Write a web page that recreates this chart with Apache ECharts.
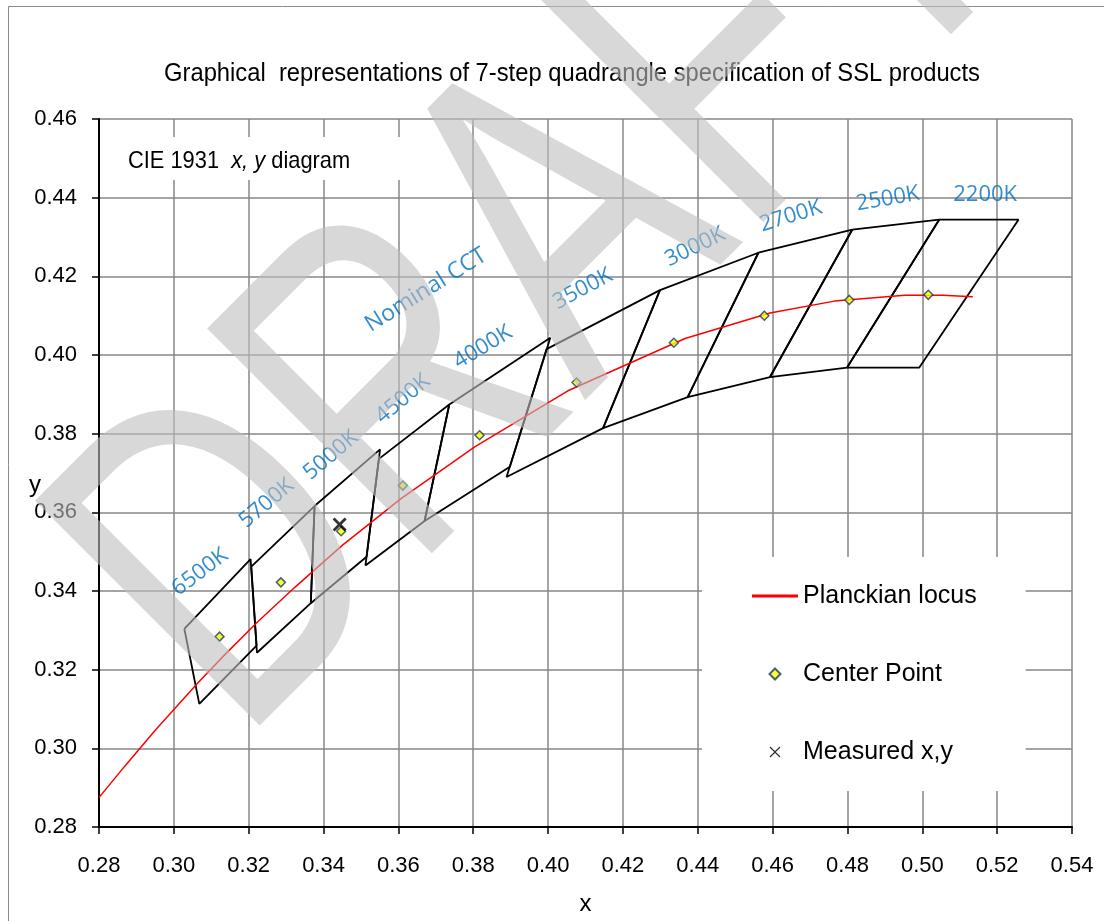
<!DOCTYPE html>
<html><head><meta charset="utf-8">
<script src="https://cdn.jsdelivr.net/npm/echarts@6/dist/echarts.min.js"></script>
<style>html,body{margin:0;padding:0;background:#fff}#c{width:1104px;height:921px}</style>
</head><body><div id="c"></div>
<script>
// ---- data ----
const xTicks = [0.28,0.30,0.32,0.34,0.36,0.38,0.40,0.42,0.44,0.46,0.48,0.50,0.52,0.54];
const yTicks = [0.28,0.30,0.32,0.34,0.36,0.38,0.40,0.42,0.44,0.46];

const quad6500 = [[0.3028,0.3304],[0.3205,0.3481],[0.3221,0.3261],[0.3068,0.3113]];
const quad5700 = [[0.3207,0.3462],[0.3376,0.3616],[0.3366,0.3369],[0.3222,0.3243]];
const quad5000 = [[0.3376,0.3616],[0.3551,0.3760],[0.3515,0.3487],[0.3366,0.3369]];
const quad4500 = [[0.3548,0.3736],[0.3736,0.3874],[0.3670,0.3578],[0.3512,0.3465]];
const quad4000 = [[0.3736,0.3874],[0.4006,0.4044],[0.3898,0.3716],[0.3670,0.3578]];
const quad3500 = [[0.3996,0.4015],[0.4299,0.4165],[0.4147,0.3814],[0.3889,0.3690]];
const quad3000 = [[0.4299,0.4165],[0.4562,0.4260],[0.4373,0.3893],[0.4147,0.3814]];
const quad2700 = [[0.4562,0.4260],[0.4813,0.4319],[0.4593,0.3944],[0.4373,0.3893]];
const quad2500 = [[0.4813,0.4319],[0.5045,0.4344],[0.4799,0.3968],[0.4593,0.3944]];
const quad2200 = [[0.5045,0.4344],[0.5257,0.4344],[0.4992,0.3968],[0.4799,0.3968]];

const planckLocus = [[0.2800,0.2875],[0.2807,0.2883],[0.2870,0.2956],[0.2952,0.3048],[0.3064,0.3166],
  [0.3135,0.3237],[0.3220,0.3318],[0.3324,0.3410],[0.3450,0.3516],[0.3607,0.3635],[0.3805,0.3767],
  [0.4053,0.3909],[0.4366,0.4042],[0.4593,0.4107],[0.4765,0.4137],[0.4953,0.4152],[0.5054,0.4152],[0.5135,0.4148]];

const centerPoints = [[0.3122,0.3284],[0.3286,0.3422],[0.3447,0.3552],[0.3612,0.3668],[0.3817,0.3796],
  [0.4076,0.3930],[0.4336,0.4031],[0.4578,0.4100],[0.4805,0.4140],[0.5016,0.4153]];

const measuredXY = [[0.3443,0.3569]];

const cctNames   = ['6500K','5700K','5000K','4500K','4000K','Nominal CCT','3500K','3000K','2700K','2500K','2200K'];
const cctAnchors = [[0.3070,0.3448],[0.3248,0.3623],[0.3420,0.3745],[0.3612,0.3888],[0.3826,0.4020],
  [0.3674,0.4165],[0.4093,0.4168],[0.4393,0.4275],[0.4649,0.4353],[0.4908,0.4397],[0.5168,0.4407]];
const cctAngles  = [37,40,40,40,31,32,28,26,17,10,0];

// ---- styles ----
const SANS = "'Liberation Sans',Arial,sans-serif";
const quads = [quad6500,quad5700,quad5000,quad4500,quad4000,quad3500,quad3000,quad2700,quad2500,quad2200];
const XPATH = 'path://M0,1.4L1.4,0L5,3.6L8.6,0L10,1.4L6.4,5L10,8.6L8.6,10L5,6.4L1.4,10L0,8.6L3.6,5Z';
const XPATH_THIN = 'path://M0,0.8L0.8,0L5,4.2L9.2,0L10,0.8L5.8,5L10,9.2L9.2,10L5,5.8L0.8,10L0,9.2L4.2,5Z';
const DIAMOND = 'path://M5,0L10,5L5,10L0,5Z';

const chart = echarts.init(document.getElementById('c'), null, {renderer:'canvas'});
const cctData = cctNames.map((n,i)=>({
  name:n, value:cctAnchors[i],
  label:{rotate:cctAngles[i], fontSize: n==='Nominal CCT'?23:22}
}));

const option = {
  animation:false,
  backgroundColor:'#fff',
  grid:{left:99, top:119, width:973, height:708, containLabel:false},
  xAxis:{type:'value', min:xTicks[0], max:xTicks[xTicks.length-1], interval:0.02,
    name:'x', nameLocation:'middle', nameGap:65, nameMoveOverlap:false,
    nameTextStyle:{fontFamily:SANS, fontSize:24, color:'#000'},
    axisLine:{lineStyle:{color:'#000', width:2}},
    axisTick:{show:true, length:7, lineStyle:{color:'#000', width:1.5}},
    axisLabel:{formatter:v=>v.toFixed(2), fontFamily:SANS, fontSize:22, color:'#000', margin:28},
    splitLine:{show:true, lineStyle:{color:'#878787', width:1.5}}},
  yAxis:{type:'value', min:yTicks[0], max:yTicks[yTicks.length-1], interval:0.02,
    name:'y', nameLocation:'middle', nameGap:58, nameRotate:0, nameMoveOverlap:false,
    nameTextStyle:{fontFamily:SANS, fontSize:24, color:'#000', verticalAlign:'top'},
    axisLine:{lineStyle:{color:'#000', width:2}},
    axisTick:{show:true, length:7, lineStyle:{color:'#000', width:1.5}},
    axisLabel:{formatter:v=>v.toFixed(2), fontFamily:SANS, fontSize:22, color:'#000', margin:22},
    splitLine:{show:true, lineStyle:{color:'#878787', width:1.5}}},
  legend:{data:[
      {name:'Planckian locus', icon:'path://M0,0H46V3H0Z', itemStyle:{color:'#FF0000'}},
      {name:'Center Point', icon:DIAMOND},
      {name:'Measured x,y', icon:XPATH_THIN}],
    orient:'vertical', symbolKeepAspect:true,
    left:702, top:557, padding:[25,49,25,50], itemGap:50, itemWidth:46, itemHeight:11,
    backgroundColor:'#fff', selectedMode:false,
    textStyle:{fontFamily:SANS, fontSize:25, color:'#000', lineHeight:28}},
  series:[
    ...quads.map(q=>({type:'line', data:[...q, q[0]], symbol:'none', showSymbol:false, silent:true,
       lineStyle:{color:'#000', width:1.8}, z:3})),
    {name:'Planckian locus', type:'line', data:planckLocus, symbol:'none', showSymbol:false,
       lineStyle:{color:'#FF0000', width:1.5}, itemStyle:{color:'#FF0000'}, z:4},
    {name:'Center Point', type:'scatter', data:centerPoints, symbol:'diamond', symbolSize:9,
       itemStyle:{color:'#FFFF00', borderColor:'#1F3864', borderWidth:1.5}, z:5},
    {name:'Measured x,y', type:'scatter', data:measuredXY, symbol:XPATH, symbolSize:14,
       itemStyle:{color:'#000'}, z:6},
    {type:'scatter', data:cctData, symbolSize:1, itemStyle:{color:'rgba(0,0,0,0)'}, silent:true, z:7,
       label:{show:true, position:'inside', formatter:p=>p.name, color:'#0070C0', fontFamily:"'Open Sans'", fontSize:22}}
  ],
  graphic:[
    {type:'rect', shape:{x:8.5, y:6.5, width:1200, height:1000}, style:{fill:'none', stroke:'#8c8c8c', lineWidth:1}, z:1, silent:true},
    {type:'text', x:572, y:74, scaleX:0.95, style:{text:'Graphical  representations of 7-step quadrangle specification of SSL products',
       fontFamily:SANS, fontSize:25, fill:'#000', align:'center', verticalAlign:'middle'}, z:10},
    {type:'rect', shape:{x:101, y:137, width:314, height:43}, style:{fill:'#fff'}, z:8, silent:true},
    {type:'text', x:128, y:161, scaleX:0.91, style:{text:'{a|CIE 1931  }{b|x, y}{a| diagram}', align:'left', verticalAlign:'middle',
       rich:{a:{fontFamily:SANS, fontSize:24, fill:'#000'}, b:{fontFamily:SANS, fontSize:24, fontStyle:'italic', fill:'#000'}}}, z:9},
    {type:'text', x:150, y:655, rotation:Math.PI/4, scaleX:0.73, scaleY:1,
       style:{text:'DRAFT', fontFamily:SANS, fontSize:462, fill:'rgba(190,190,190,0.6)', align:'left', verticalAlign:'middle'},
       z:100, silent:true}
  ]
};
chart.setOption(option);
</script></body></html>
